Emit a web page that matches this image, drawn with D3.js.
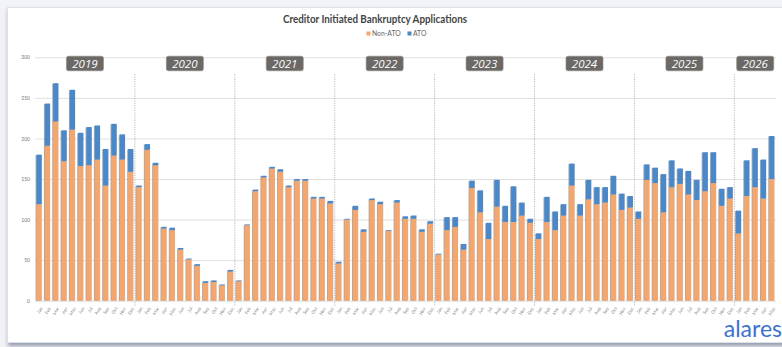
<!DOCTYPE html>
<html>
<head>
<meta charset="utf-8">
<script src="https://cdn.jsdelivr.net/npm/d3@7"></script>
<style>
  html, body { margin: 0; padding: 0; background: #f2f3f6; }
  body { width: 782px; height: 347px; overflow: hidden; position: relative; }
  .card { position: absolute; left: 7px; top: 7px; width: 800px; height: 334px; background: #fff;
          box-shadow: 1px 3px 4px rgba(70, 80, 120, 0.55); border: 1px solid #dfe1e8; }
  svg { position: absolute; left: 0; top: 0; }
</style>
</head>
<body>
<div class="card"></div>
<svg id="chart" width="782" height="347"></svg>
<script>
// Monthly creditor initiated bankruptcy applications, Jan 2019 – May 2026
const years = ["2019", "2020", "2021", "2022", "2023", "2024", "2025", "2026"];
const monthNames = ["Jan", "Feb", "Mar", "Apr", "May", "Jun", "Jul", "Aug", "Sep", "Oct", "Nov", "Dec"];
const monthsPerYear = [12, 12, 12, 12, 12, 12, 12, 5];

const nonAto = [
  119, 191, 221, 172, 211, 166, 167, 174, 142, 179, 174, 159,
  140, 186, 167, 89, 87, 63, 51, 43, 22, 23, 19, 36,
  24, 93, 135, 152, 163, 159, 140, 148, 148, 126, 126, 120,
  46, 100, 112, 85, 124, 119, 86, 121, 101, 101, 85, 95,
  57, 87, 91, 63, 139, 109, 76, 116, 97, 97, 105, 96,
  76, 97, 87, 105, 142, 105, 125, 119, 121, 131, 112, 115,
  101, 149, 145, 109, 140, 144, 131, 124, 135, 145, 117, 126,
  83, 129, 140, 126, 150
];
const ato = [
  61, 52, 47, 38, 49, 41, 47, 42, 45, 39, 31, 28,
  2, 7, 3, 2, 3, 2, 1, 2, 2, 2, 1, 2,
  1, 1, 2, 2, 2, 3, 2, 2, 2, 2, 2, 3,
  2, 1, 5, 3, 2, 3, 1, 3, 3, 4, 3, 3,
  1, 16, 12, 7, 9, 27, 20, 33, 20, 44, 16, 5,
  7, 31, 23, 14, 27, 14, 24, 21, 19, 23, 20, 14,
  9, 19, 19, 47, 33, 19, 29, 25, 48, 38, 21, 14,
  28, 44, 48, 48, 53
];
const yTicks = [0, 50, 100, 150, 200, 250, 300];
const seriesNames = ["Non-ATO", "ATO"];
const colors = { "Non-ATO": "#f4a66f", "ATO": "#4a88c9" };

// Build month rows
const rows = [];
years.forEach((yr, yi) => {
  for (let m = 0; m < monthsPerYear[yi]; m++) {
    const i = rows.length;
    rows.push({ key: yr + "-" + m, year: yr, month: monthNames[m], "Non-ATO": nonAto[i], "ATO": ato[i] });
  }
});

const svg = d3.select("#chart");
const plotLeft = 35, plotRight = 776, plotTop = 57.3, plotBottom = 300.7;

const x = d3.scaleBand().domain(rows.map(d => d.key)).range([plotLeft, plotRight]).paddingInner(0.36).paddingOuter(0.18);
const y = d3.scaleLinear().domain([0, 300]).range([plotBottom, plotTop]);

// Title and legend
svg.append("text").attr("x", 375).attr("y", 23).attr("text-anchor", "middle")
  .attr("font-family", "Lato, 'Open Sans', sans-serif").attr("font-weight", "bold")
  .attr("font-size", 10.5).attr("fill", "#444")
  .attr("textLength", 184).attr("lengthAdjust", "spacingAndGlyphs")
  .text("Creditor Initiated Bankruptcy Applications");

const legend = svg.append("g").attr("font-family", "Lato, sans-serif").attr("font-size", 6.8).attr("fill", "#666");
const legendPos = [{ sx: 366.5, tx: 372 }, { sx: 407.5, tx: 413 }];
seriesNames.forEach((s, i) => {
  legend.append("rect").attr("x", legendPos[i].sx).attr("y", 31.5).attr("width", 4).attr("height", 4).attr("fill", colors[s]);
  legend.append("text").attr("x", legendPos[i].tx).attr("y", 35.8).text(s);
});

// Gridlines and y-axis labels
const yAxis = d3.axisLeft(y).tickValues(yTicks).tickSize(-(plotRight - plotLeft)).tickPadding(5);
const ga = svg.append("g").attr("transform", `translate(${plotLeft},0)`).call(yAxis);
ga.select(".domain").remove();
ga.selectAll(".tick line").attr("stroke", "#e0e0e0").attr("stroke-width", 1);
ga.selectAll(".tick text").attr("font-family", "Lato, sans-serif").attr("font-size", 5).attr("fill", "#777");

// Year dividers
const step = x.step();
let idx = 0;
const yearSpans = years.map((yr, yi) => {
  const first = rows[idx], last = rows[idx + monthsPerYear[yi] - 1];
  idx += monthsPerYear[yi];
  return { year: yr, x0: x(first.key) + x.bandwidth() / 2, x1: x(last.key) + x.bandwidth() / 2 };
});
yearSpans.slice(1).forEach(s => {
  const bx = s.x0 - step / 2;
  svg.append("line").attr("x1", bx).attr("x2", bx).attr("y1", 74).attr("y2", 306)
    .attr("stroke", "#aaa").attr("stroke-width", 0.8).attr("stroke-dasharray", "1.2,1.2");
});

// Stacked bars
const stack = d3.stack().keys(seriesNames)(rows);
const bars = svg.append("g");
// soft left-edge shadow behind each column
bars.selectAll("rect.shadow").data(rows).join("rect").attr("class", "shadow")
  .attr("x", d => x(d.key) - 0.9).attr("y", d => y(d["Non-ATO"] + d["ATO"]) + 0.5)
  .attr("width", x.bandwidth()).attr("height", d => plotBottom - y(d["Non-ATO"] + d["ATO"]) - 0.5)
  .attr("fill", "#8c8c8c").attr("opacity", 0.75);
stack.forEach(layer => {
  bars.append("g").attr("fill", colors[layer.key]).selectAll("rect").data(layer).join("rect")
    .attr("x", d => x(d.data.key)).attr("y", d => y(d[1]))
    .attr("width", x.bandwidth()).attr("height", d => Math.max(0, y(d[0]) - y(d[1])));
});

// Month tick labels
const xa = svg.append("g").attr("transform", `translate(0,${plotBottom})`)
  .call(d3.axisBottom(x).tickSize(0).tickFormat(k => rows.find(r => r.key === k).month));
xa.select(".domain").remove();
xa.selectAll(".tick text").attr("font-family", "Lato, sans-serif").attr("font-size", 4.5).attr("fill", "#888")
  .attr("text-anchor", "end").attr("dy", 0).attr("transform", "translate(1,6) rotate(-60)");

// Year badges
const badges = svg.append("g");
yearSpans.forEach(s => {
  let cx = (s.x0 + s.x1) / 2;
  cx = Math.min(cx, plotRight - 19);
  const g = badges.append("g").attr("transform", `translate(${cx},63.5)`);
  g.append("rect").attr("x", -18.5).attr("y", -7.3).attr("width", 37).attr("height", 14.6).attr("rx", 2)
    .attr("fill", "#6c6866").attr("stroke", "#8a8684").attr("stroke-width", 0.6);
  g.append("text").attr("text-anchor", "middle").attr("y", 4.2)
    .attr("font-family", "'Open Sans', sans-serif").attr("font-style", "italic")
    .attr("font-size", 11.5).attr("fill", "#fff").text(s.year);
});

// Brand mark
svg.append("text").attr("x", 782).attr("y", 337).attr("text-anchor", "end")
  .attr("font-family", "Lato, 'Open Sans', sans-serif").attr("font-size", 23).attr("fill", "#3b72d1")
  .text("alares");
</script>
</body>
</html>
